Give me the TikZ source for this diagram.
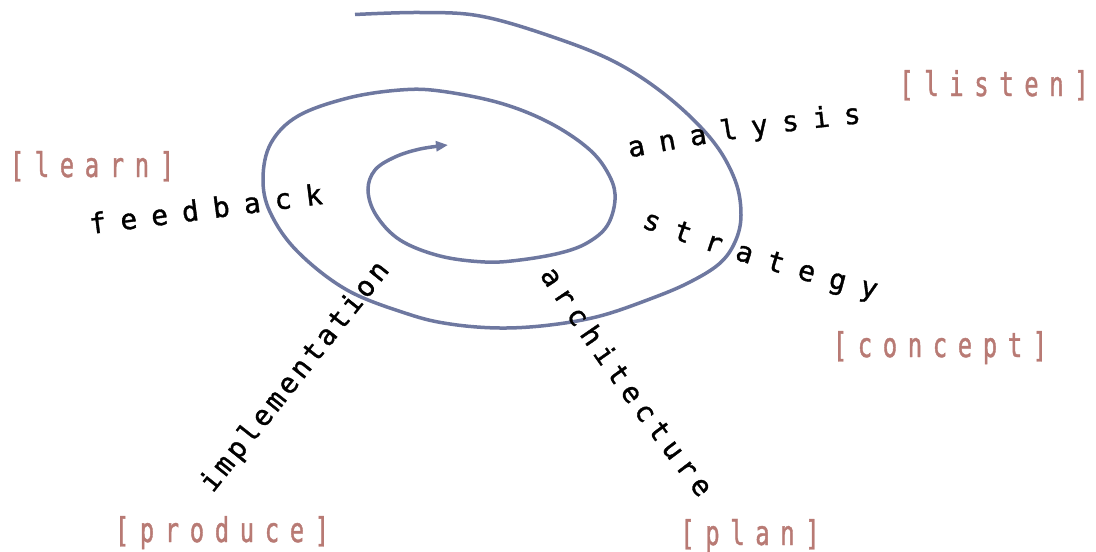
\documentclass[tikz,border=0pt]{standalone}
\usepackage{fontspec}
\usetikzlibrary{arrows.meta}
\newfontfamily\labfont{DejaVu Sans Mono}[FakeBold=1.2]
\newfontfamily\bfnt{DejaVu Sans Mono}[FakeStretch=0.7,FakeBold=1.2]
\definecolor{spiralblue}{RGB}{110,120,160}
\definecolor{rosebrown}{RGB}{184,122,116}
\makeatletter
\def\spaced#1{\spaced@a#1\@nil}
\def\spaced@a#1#2{\makebox[25pt][c]{#1}\ifx#2\@nil\else\expandafter\spaced@a\expandafter#2\fi}
\makeatother
\newcommand\alongcurve[6]{%
  \foreach \lt [count=\li from 0] in {#6} {%
    \pgfmathsetmacro\tp{\li/#5}%
    \path #1 .. controls #2 and #3 .. #4 node[letter, pos=\tp] {\lt};
  }}
\begin{document}
\begin{tikzpicture}[x=1pt,y=-1pt,
  letter/.style={font=\labfont\fontsize{28}{28}\selectfont, anchor=base, sloped, inner sep=0pt, text=black},
  bracketlab/.style={font=\bfnt\fontsize{34}{34}\selectfont, anchor=base, inner sep=0pt, text=rosebrown},
  spiralline/.style={draw=spiralblue, line width=3.5pt, -{Triangle[length=12pt,width=10pt]}}]
\useasboundingbox (0,0) rectangle (1096,552);
% spiral
\draw[spiralline] plot[smooth, tension=0.6] coordinates {
 (355,14.5) (420,12.5) (480,16) (550,36) (615,62) (668,97) (712,140) (735,180)
 (741,215) (735,242) (719,264) (688,283) (650,299) (600,316) (550,325) (500,328)
 (450,324) (408,314) (347,290) (297,251) (270,212) (263,178) (271,143) (298,116)
 (348,98) (400,90) (440,91) (500,103) (550,123) (590,150) (610,177) (615,200)
 (607,226) (587,243) (560,253) (520,260) (485,262) (440,256) (400,240) (376,215)
 (368,190) (375,170) (395,157) (420,149) (448,145)};
% words along the spiral
\alongcurve{(638,156)}{(710,142)}{(781,131)}{(853,124)}{7}{a,n,a,l,y,s,i,s}
\alongcurve{(649,230)}{(721,256)}{(794,279)}{(867,297)}{7}{s,t,r,a,t,e,g,y}
\alongcurve{(99,233)}{(171,224)}{(243,214)}{(315,205)}{7}{f,e,e,d,b,a,c,k}
\alongcurve{(218,487)}{(274,417)}{(329,347)}{(385,277)}{13}{i,m,p,l,e,m,e,n,t,a,t,i,o,n}
\alongcurve{(544,282)}{(592,355)}{(642,425)}{(694,492)}{11}{a,r,c,h,i,t,e,c,t,u,r,e}
% bracket labels
\node[bracketlab] (listen) at (994,96) {\spaced{[listen]}};
\node[bracketlab] (learn) at (92,177) {\spaced{[learn]}};
\node[bracketlab] (concept) at (940,357) {\spaced{[concept]}};
\node[bracketlab] (produce) at (222,542) {\spaced{[produce]}};
\node[bracketlab] (plan) at (750,545) {\spaced{[plan]}};
\end{tikzpicture}
\end{document}
